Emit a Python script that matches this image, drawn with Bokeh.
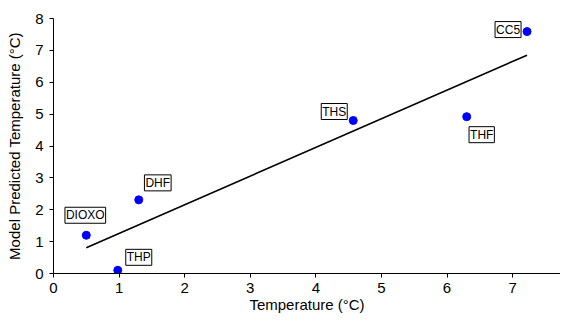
import numpy as np
from bokeh.plotting import figure
from bokeh.models import Label, Range1d, FixedTicker
from bokeh.embed import file_html
from bokeh.resources import INLINE

names = ["DIOXO", "DHF", "THP", "THS", "THF", "CC5"]
measured = [0.50, 1.30, 0.98, 4.57, 6.30, 7.22]
predicted = [1.20, 2.31, 0.10, 4.80, 4.92, 7.59]
label_dx = [-1, 19, 21, -19, 15, -19]
label_dy = [20, 17, 13, 9, -18, 2]
x_ticks = [0, 1, 2, 3, 4, 5, 6, 7]
y_ticks = [0, 1, 2, 3, 4, 5, 6, 7, 8]

FONT = "Liberation Sans"

p = figure(width=560, height=315, output_backend="svg", toolbar_location=None,
           x_range=Range1d(0, 7.73), y_range=Range1d(0, 8),
           min_border_left=53, min_border_right=0, min_border_top=18, min_border_bottom=42)
p.outline_line_color = None
p.xgrid.grid_line_color = None
p.ygrid.grid_line_color = None

for ax in (p.xaxis[0], p.yaxis[0]):
    ax.minor_tick_line_color = None
    ax.major_tick_in = 0
    ax.major_tick_out = 4
    ax.axis_line_color = "black"
    ax.major_tick_line_color = "black"
    ax.major_label_text_font = FONT
    ax.major_label_text_font_size = "15px"
    ax.major_label_text_color = "black"
    ax.axis_label_text_font = FONT
    ax.axis_label_text_font_size = "15px"
    ax.axis_label_text_font_style = "normal"
    ax.axis_label_text_color = "black"

p.xaxis.ticker = FixedTicker(ticks=x_ticks)
p.yaxis.ticker = FixedTicker(ticks=y_ticks)
p.xaxis.axis_label = "Temperature (°C)"
p.yaxis.axis_label = "Model Predicted Temperature (°C)"
p.xaxis.major_label_standoff = 5
p.xaxis.axis_label_standoff = 0
p.yaxis.major_label_standoff = 6
p.yaxis.axis_label_standoff = 9

# trend line (least squares fit)
slope, intercept = np.polyfit(measured, predicted, 1)
xs = [min(measured), max(measured)]
ys = [slope * x + intercept for x in xs]
p.line(xs, ys, line_color="black", line_width=1.6)

p.scatter(measured, predicted, size=8, fill_color="#0000FF", line_color="#0000FF")

for n, x, y, dx, dy in zip(names, measured, predicted, label_dx, label_dy):
    p.add_layout(Label(x=x, y=y, x_offset=dx, y_offset=dy, text=n,
                       text_align="center", text_baseline="middle",
                       text_font=FONT, text_font_size="12px", text_color="black",
                       background_fill_color="white", border_line_color="black",
                       border_line_width=1, padding=1))

open("out.html", "w").write(file_html(p, INLINE))
